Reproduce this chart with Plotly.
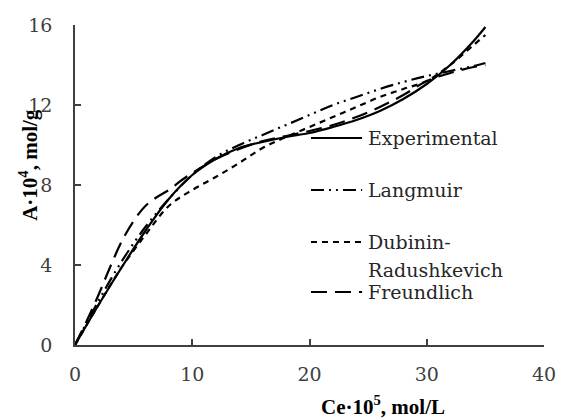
import plotly.graph_objects as go

# Equilibrium concentration (Ce·10^5, mol/L) and adsorption (A·10^4, mol/g)
exp_x = [0, 2, 4, 6, 8, 10, 12, 14, 16, 18, 20, 22, 24, 26, 28, 30, 32, 34, 35]
exp_y = [0, 2.0, 3.9, 5.7, 7.3, 8.5, 9.3, 9.85, 10.15, 10.4, 10.6, 10.9, 11.25, 11.7, 12.3, 13.05, 14.0, 15.2, 15.9]

lang_x = [0, 2, 4, 6, 8, 10, 12, 14, 16, 18, 20, 22, 24, 26, 28, 30, 32, 34, 35]
lang_y = [0, 2.2, 4.2, 5.9, 7.3, 8.5, 9.4, 10.0, 10.5, 11.0, 11.5, 12.0, 12.4, 12.8, 13.15, 13.45, 13.7, 13.95, 14.1]

dr_x = [0, 2, 4, 6, 8, 10, 12, 14, 16, 18, 20, 22, 24, 26, 28, 30, 32, 34, 35]
dr_y = [0, 2.0, 3.9, 5.5, 6.95, 7.75, 8.4, 9.1, 9.85, 10.4, 10.9, 11.4, 11.9, 12.4, 12.8, 13.2, 14.0, 15.0, 15.5]

fr_x = [0, 1, 2, 3, 4, 5, 6, 7, 8, 9, 10, 12, 14, 16, 18, 20, 22, 24, 26, 28, 30, 32, 34, 35]
fr_y = [0, 1.2, 2.5, 3.9, 5.2, 6.2, 6.95, 7.4, 7.75, 8.2, 8.6, 9.3, 9.8, 10.2, 10.45, 10.7, 11.0, 11.4, 11.9, 12.5, 13.2, 13.6, 13.9, 14.0]

x_ticks = [0, 10, 20, 30, 40]
y_ticks = [0, 4, 8, 12, 16]

W, H = 568, 418
ML, MR, MT, MB = 75, 16, 25, 73
PW, PH = W - ML - MR, H - MT - MB

FONT = "DejaVu Serif, Liberation Serif, serif"
BOLD_FONT = "Liberation Serif, Times New Roman, serif"
DR_DASH = "6px,5px"
FR_DASH = "16px,8px"
LANG_DASH = "13px,5px,2px,5px,2px,5px"

def px(xp):
    return (xp - ML) / PW

def py(yp):
    return (H - MB - yp) / PH

series = [
    ("Experimental", exp_x, exp_y, "solid"),
    ("Langmuir", lang_x, lang_y, LANG_DASH),
    ("Dubinin-Radushkevich", dr_x, dr_y, DR_DASH),
    ("Freundlich", fr_x, fr_y, FR_DASH),
]

fig = go.Figure()
for name, xs, ys, dash in series:
    fig.add_trace(go.Scatter(
        x=xs, y=ys, mode="lines", name=name,
        line=dict(color="black", width=2.2, dash=dash, shape="spline", smoothing=1.0),
        showlegend=False,
    ))

axis_common = dict(
    showline=True, linecolor="#404040", linewidth=1.5,
    ticks="inside", ticklen=6, tickcolor="#404040", tickwidth=1.5,
    showgrid=False, zeroline=False,
    tickfont=dict(family=FONT, size=19, color="#404040"),
)

fig.update_layout(
    width=W, height=H,
    margin=dict(l=ML, r=MR, t=MT, b=MB),
    plot_bgcolor="white", paper_bgcolor="white",
    font=dict(family=FONT),
    xaxis=dict(range=[0, 40], tickvals=x_ticks, ticklabelstandoff=11, **axis_common),
    yaxis=dict(range=[0, 16], tickvals=y_ticks, ticklabelstandoff=17, **axis_common),
)

# Axis titles
fig.add_annotation(
    x=px(388), y=py(405), xref="paper", yref="paper",
    xanchor="center", yanchor="middle",
    text="<b>Ce·10<sup>5</sup>, mol/L</b>", showarrow=False,
    font=dict(family=BOLD_FONT, size=21, color="black"),
)
fig.add_annotation(
    x=px(27), y=py(165), xref="paper", yref="paper", textangle=-90,
    xanchor="center", yanchor="middle",
    text="<b>A·10<sup>4</sup>, mol/g</b>", showarrow=False,
    font=dict(family=BOLD_FONT, size=21, color="black"),
)

# Legend: line samples and labels
legend_rows = [
    ("Experimental", "solid", 138),
    ("Langmuir", LANG_DASH, 190),
    ("Dubinin-", DR_DASH, 242),
    ("Freundlich", FR_DASH, 292),
]
for label, dash, yp in legend_rows:
    fig.add_shape(
        type="line", xref="paper", yref="paper",
        x0=px(315), x1=px(367), y0=py(yp), y1=py(yp),
        line=dict(color="black", width=2.2, dash=dash),
    )
    fig.add_annotation(
        x=px(371), y=py(yp), xref="paper", yref="paper",
        xanchor="left", yanchor="middle", text=label, showarrow=False,
        font=dict(family=FONT, size=19, color="#262626"),
    )
fig.add_annotation(
    x=px(371), y=py(270), xref="paper", yref="paper",
    xanchor="left", yanchor="middle", text="Radushkevich", showarrow=False,
    font=dict(family=FONT, size=19, color="#262626"),
)

fig.write_html("out.html")
